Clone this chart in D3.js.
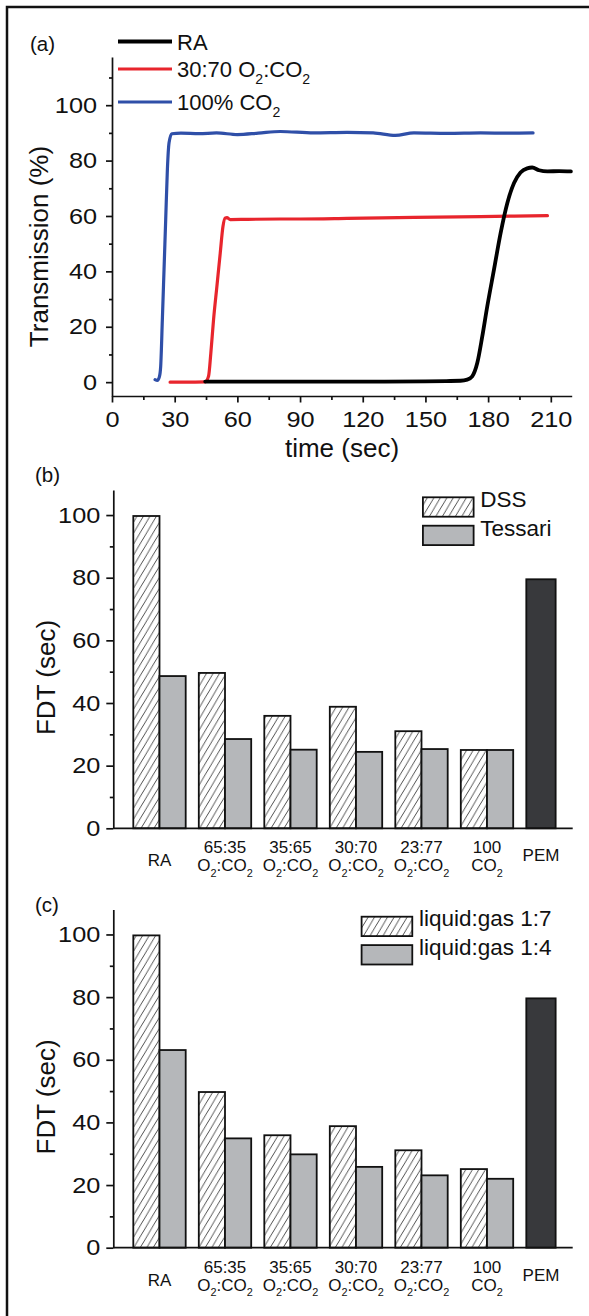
<!DOCTYPE html>
<html><head><meta charset="utf-8">
<script src="https://cdn.jsdelivr.net/npm/d3@7"></script>
<style>
body{margin:0;background:#fff}
text{font-family:"Liberation Sans",Arial,Helvetica,sans-serif;fill:#111}
</style>
</head><body>
<svg id="chart" width="589" height="1316"></svg>
<script>
// ---------- DATA ----------
const timeTicks = [0,30,60,90,120,150,180,210];
const timeMinorTicks = [15,45,75,105,135,165,195];
const transTicks = [0,20,40,60,80,100];
const transMinorTicks = [10,30,50,70,90,110];

const raTime  = [44.6,60,90,120,150,160,166.8,170,172.4,174.8,177.2,179.6,182.8,186,189.2,192.4,195.5,198.7,201.1,204.4,208.4,214,219.6];
const raTrans = [0.2,0.2,0.2,0.2,0.3,0.4,0.5,0.9,2.1,6.9,16.5,27.4,40.6,53.9,64.7,71.9,75.7,77.2,77.5,76.5,76.1,76.2,76.1];

const mix3070Time  = [27.8,35,44.6,46.2,47.3,48.6,50.2,51.8,53.1,54.2,55,56.6,65,80.5,90,112.5,144.5,176.4,208.4];
const mix3070Trans = [0,0,0.1,2.1,10.5,22.6,34.6,46.6,56.2,59.3,59.4,58.7,58.8,58.9,58.9,59.1,59.5,59.8,60.1];

const co2Time  = [20.6,21.7,22.7,23.3,24.1,24.9,25.7,26.5,27.3,28.6,33,41.7,50,60,70,80.5,96.5,112.5,125,135.6,144.5,160.5,176.4,190,201.5];
const co2Trans = [0.9,0.6,2,5.7,22.6,40.6,58.7,76.7,86.4,89.7,89.9,89.7,90.0,89.4,89.9,90.5,90.0,90.2,90.0,89.1,90.0,89.8,90.0,89.9,90.0];

const lineNames = ["RA","30:70 O_2:CO_2","100% CO_2"];

const categories = ["RA","65:35","35:65","30:70","23:77","100","PEM"];
const categoryLines = [["RA"],["65:35","O_2:CO_2"],["35:65","O_2:CO_2"],["30:70","O_2:CO_2"],["23:77","O_2:CO_2"],["100","CO_2"],["PEM"]];
const fdtTicks = [0,20,40,60,80,100];
const fdtMinorTicks = [10,30,50,70,90];

const dss     = [99.7,49.6,35.9,38.8,31.0,25.0];
const tessari = [48.6,28.5,25.1,24.4,25.3,25.0];
const pemB    = 79.5;
const namesB  = ["DSS","Tessari"];

const lg17 = [99.7,49.7,35.9,38.8,31.1,25.1];
const lg14 = [63.1,34.9,29.8,25.8,23.1,22.0];
const pemC = 79.6;
const namesC = ["liquid:gas 1:7","liquid:gas 1:4"];

// ---------- HELPERS ----------
const FONT = '"Liberation Sans",Arial,Helvetica,sans-serif';
const svg = d3.select("#chart");
const defs = svg.append("defs");
const hp = defs.append("pattern").attr("id","hatch").attr("patternUnits","userSpaceOnUse")
  .attr("width",6.5).attr("height",11);
hp.append("rect").attr("width",6.5).attr("height",11).attr("fill","#fff");
hp.append("path").attr("d","M0,11L6.5,0M-6.5,11L0,0M6.5,11L13,0")
  .attr("stroke","#3a3a3a").attr("stroke-width",0.9).attr("fill","none");

function stretch(sel, sx){
  sel.each(function(){
    const t = d3.select(this);
    const x = +t.attr("x") || 0;
    t.attr("x", x/sx).attr("transform", `scale(${sx},1)`);
  });
}
function styleAxis(g, fs){
  g.attr("font-family", FONT).attr("font-size", fs);
  g.selectAll("path,line").attr("stroke","#111").attr("stroke-width",1.7);
  g.selectAll("text").attr("fill","#111");
}
function richText(parent, str, x, y, fs, anchor){
  const t = parent.append("text").attr("x",x).attr("y",y).attr("font-size",fs)
    .attr("text-anchor",anchor||"start");
  const shift = fs*0.32;
  let low = false;
  str.split(/(_\d)/).filter(s=>s.length).forEach(s=>{
    if (s[0]==="_"){
      t.append("tspan").attr("font-size",fs*0.64).attr("dy", low?0:shift).text(s.slice(1));
      low = true;
    } else {
      t.append("tspan").attr("dy", low?-shift:0).text(s);
      low = false;
    }
  });
  return t;
}

// frame
svg.append("rect").attr("x",7).attr("y",7).attr("width",640).attr("height",1360)
  .attr("fill","none").attr("stroke","#111").attr("stroke-width",2.5);

// ---------- PANEL (a) ----------
const xA = d3.scaleLinear().domain([0,220]).range([112,571.7]);
const yA = d3.scaleLinear().domain([-5,117.4]).range([396,57]);
const gA = svg.append("g");

gA.append("g").attr("transform","translate(112,0)")
  .call(d3.axisLeft(yA).tickValues(transMinorTicks).tickSize(3).tickFormat(""))
  .call(g=>g.select(".domain").remove()).call(g=>styleAxis(g,22));
const ayA = gA.append("g").attr("transform","translate(112,0)")
  .call(d3.axisLeft(yA).tickValues(transTicks).tickSize(6).tickSizeOuter(0).tickPadding(9))
  .call(g=>styleAxis(g,22));
stretch(ayA.selectAll("text"),1.15);

gA.append("g").attr("transform","translate(0,396)")
  .call(d3.axisBottom(xA).tickValues(timeMinorTicks).tickSize(4).tickFormat(""))
  .call(g=>g.select(".domain").remove()).call(g=>styleAxis(g,22));
const axA = gA.append("g").attr("transform","translate(0,396)")
  .call(d3.axisBottom(xA).tickValues(timeTicks).tickSize(6.5).tickSizeOuter(0).tickPadding(9))
  .call(g=>styleAxis(g,22));
stretch(axA.selectAll("text"),1.15);

gA.append("text").attr("x",342).attr("y",457).attr("text-anchor","middle")
  .attr("font-size",26).text("time (sec)");
gA.append("text").attr("transform","translate(48,246.5) rotate(-90)")
  .attr("text-anchor","middle").attr("font-size",26).text("Transmission (%)");
gA.append("text").attr("x",30).attr("y",51).attr("font-size",20.5).text("(a)");

const lineGen = d3.line().x(d=>xA(d[0])).y(d=>yA(d[1])).curve(d3.curveMonotoneX);
const seriesA = [
  {name:lineNames[2], pts:d3.zip(co2Time,co2Trans), color:"#2f4fa8", w:3.2},
  {name:lineNames[1], pts:d3.zip(mix3070Time,mix3070Trans), color:"#e8252d", w:3.2},
  {name:lineNames[0], pts:d3.zip(raTime,raTrans), color:"#000", w:3.8}
];
gA.selectAll("path.series").data(seriesA).join("path").attr("class","series")
  .attr("d",d=>lineGen(d.pts)).attr("fill","none").attr("stroke",d=>d.color)
  .attr("stroke-width",d=>d.w).attr("stroke-linejoin","round").attr("stroke-linecap","round");

// legend (a)
const legA = [
  {name:lineNames[0], color:"#000", w:4, y:41.5},
  {name:lineNames[1], color:"#e8252d", w:3.2, y:69},
  {name:lineNames[2], color:"#2f4fa8", w:3.2, y:102}
];
legA.forEach(d=>{
  gA.append("line").attr("x1",118).attr("x2",172).attr("y1",d.y).attr("y2",d.y)
    .attr("stroke",d.color).attr("stroke-width",d.w);
  richText(gA, d.name, 177, d.y+8, 22, "start");
});

// ---------- BAR PANELS ----------
function barPanel(y0, s1, s2, pemVal, names, label, labelY){
  const g = svg.append("g");
  const left = 113.3, right = 572.7;
  const y = d3.scaleLinear().domain([0,108]).range([y0, y0-338.3]);
  const x = d3.scaleBand().domain(categories).range([120.2,591.8]).paddingInner(0.2).paddingOuter(0.2);
  const sub = d3.scaleBand().domain(["s1","s2"]).range([0,x.bandwidth()]);
  const groups = categories.slice(0,6).map((c,i)=>({c, v1:s1[i], v2:s2[i]}));

  g.selectAll("rect.s1").data(groups).join("rect").attr("class","s1")
    .attr("x",d=>x(d.c)+sub("s1")).attr("width",sub.bandwidth())
    .attr("y",d=>y(d.v1)).attr("height",d=>y(0)-y(d.v1))
    .attr("fill","url(#hatch)").attr("stroke","#111").attr("stroke-width",1.8);
  g.selectAll("rect.s2").data(groups).join("rect").attr("class","s2")
    .attr("x",d=>x(d.c)+sub("s2")).attr("width",sub.bandwidth())
    .attr("y",d=>y(d.v2)).attr("height",d=>y(0)-y(d.v2))
    .attr("fill","#b5b7ba").attr("stroke","#111").attr("stroke-width",1.8);
  const pemW = x.bandwidth()*0.56;
  g.append("rect").attr("x",x("PEM")).attr("width",pemW)
    .attr("y",y(pemVal)).attr("height",y(0)-y(pemVal))
    .attr("fill","#38393c").attr("stroke","#111").attr("stroke-width",1.8);

  // axes
  g.append("g").attr("transform",`translate(${left},0)`)
    .call(d3.axisLeft(y).tickValues(fdtMinorTicks).tickSize(3.5).tickFormat(""))
    .call(a=>a.select(".domain").remove()).call(a=>styleAxis(a,22));
  const ay = g.append("g").attr("transform",`translate(${left},0)`)
    .call(d3.axisLeft(y).tickValues(fdtTicks).tickSize(7).tickSizeOuter(0).tickPadding(6))
    .call(a=>styleAxis(a,22));
  stretch(ay.selectAll("text"),1.15);
  g.append("line").attr("x1",left).attr("x2",right).attr("y1",y(0)).attr("y2",y(0))
    .attr("stroke","#111").attr("stroke-width",1.7);

  // category labels
  categories.forEach((c,i)=>{
    const lines = categoryLines[i];
    const cx = c==="PEM" ? x(c)+pemW/2 : x(c)+x.bandwidth()/2;
    if (lines.length===1){
      const cy = y(0) + (c==="RA" ? 32 : 27);
      richText(g, lines[0], cx, cy+6, 17, "middle");
    } else {
      richText(g, lines[0], cx, y(0)+19+6, 17, "middle");
      richText(g, lines[1], cx, y(0)+37+6, 17, "middle");
    }
  });

  // axis title & panel label
  g.append("text").attr("transform",`translate(54.5,${y(0)-150.8}) rotate(-90)`)
    .attr("text-anchor","middle").attr("font-size",26).text("FDT (sec)");
  g.append("text").attr("x",35).attr("y",labelY).attr("font-size",20.5).text(label);

  // legend
  const lg = g.append("g");
  const texts = names.map((n,i)=>lg.append("text").attr("font-size",22.5)
    .attr("y", y0 - 321.3 + i*28.5).text(n));
  const maxW = d3.max(texts, t=>t.node().getComputedTextLength());
  const tx = 551.5 - maxW;
  texts.forEach(t=>t.attr("x",tx));
  names.forEach((n,i)=>{
    lg.append("rect").attr("x",tx-57.3).attr("y",y0-331+i*28.4)
      .attr("width",50.7).attr("height",19.4)
      .attr("fill", i===0 ? "url(#hatch)" : "#b5b7ba")
      .attr("stroke","#111").attr("stroke-width",1.8);
  });
}

barPanel(828.3, dss, tessari, pemB, namesB, "(b)", 482);
barPanel(1247.7, lg17, lg14, pemC, namesC, "(c)", 912);
</script>
</body></html>
